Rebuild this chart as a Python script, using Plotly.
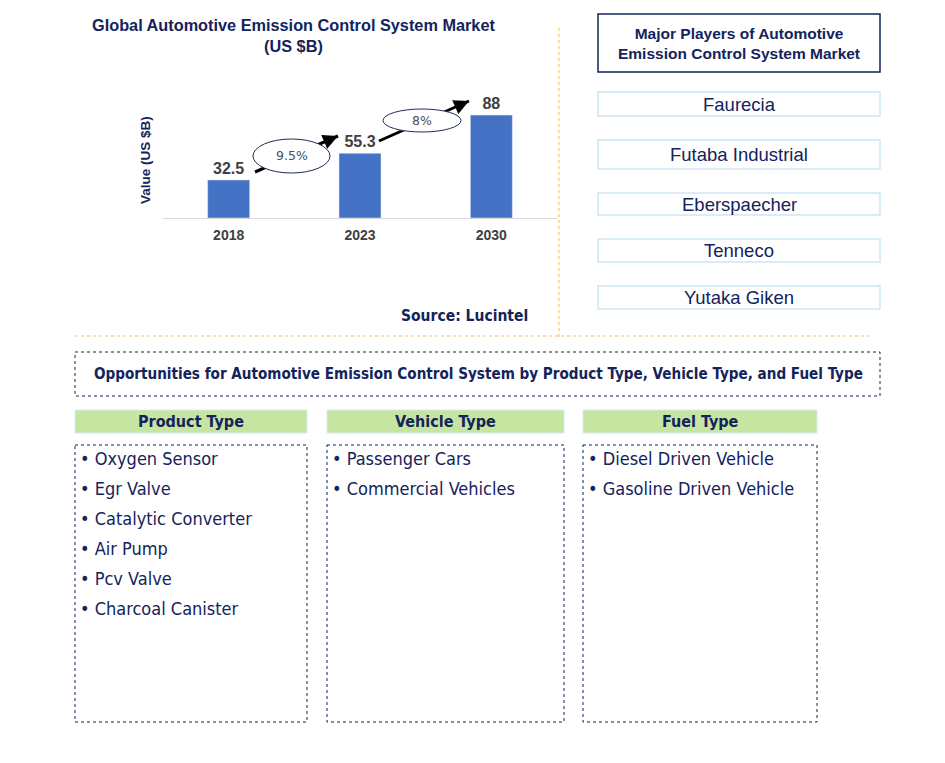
import plotly.graph_objects as go

W, H = 945, 763

years = ["2018", "2023", "2030"]
values = [32.5, 55.3, 88]
cagr_labels = ["9.5%", "8%"]
players = ["Faurecia", "Futaba Industrial", "Eberspaecher", "Tenneco", "Yutaka Giken"]
segment_titles = ["Product Type", "Vehicle Type", "Fuel Type"]
product_types = ["Oxygen Sensor", "Egr Valve", "Catalytic Converter", "Air Pump", "Pcv Valve", "Charcoal Canister"]
vehicle_types = ["Passenger Cars", "Commercial Vehicles"]
fuel_types = ["Diesel Driven Vehicle", "Gasoline Driven Vehicle"]

NAVY = "#13235b"
GOLD = "#f2c14e"
ARIAL = "Liberation Sans, Arial, sans-serif"
NARROW = "DejaVu Sans Condensed, Liberation Sans Narrow, sans-serif"


def px(x):
    return x / W


def py(y):
    return 1 - y / H


fig = go.Figure()

X0, X1 = 163, 557
Y_BASE, Y_TOP = 218, 60
YMAX = (Y_BASE - Y_TOP) / 1.17

fig.add_trace(go.Bar(
    x=years, y=values, marker_color="#4472c4", width=0.32,
    text=[str(v) for v in values], texttemplate="<b>%{text}</b>", textposition="outside",
    textfont=dict(family=ARIAL, size=16, color="#404040"),
    cliponaxis=False, hoverinfo="skip",
))

fig.update_layout(
    width=W, height=H, margin=dict(l=0, r=0, t=0, b=0),
    paper_bgcolor="white", plot_bgcolor="white", showlegend=False,
    xaxis=dict(domain=[px(X0), px(X1)], showgrid=False, showline=True, linecolor="#d9d9d9",
               linewidth=1, ticks="", tickfont=dict(family=ARIAL, size=14, color="#404040"),
               tickprefix="<b>", ticksuffix="</b>", ticklabelstandoff=4, fixedrange=True),
    yaxis=dict(domain=[py(Y_BASE), py(Y_TOP)], range=[0, YMAX], showgrid=False,
               showticklabels=False, zeroline=False, showline=False, fixedrange=True),
)

shapes = []
ann = []


def text(x, y, s, size, family=ARIAL, color=NAVY, xanchor="center", angle=0):
    ann.append(dict(x=px(x), y=py(y), xref="paper", yref="paper", showarrow=False, text=s,
                    xanchor=xanchor, yanchor="middle", textangle=angle,
                    font=dict(family=family, size=size, color=color)))


text(293, 36, "<b>Global Automotive Emission Control System Market<br>(US $B)</b>", 16.3)
text(145, 160, "<b>Value (US $B)</b>", 13.5, angle=-90)

arrows = [((255, 172), (338, 136)), ((379, 141), (469, 101))]
ellipses = [(253, 139, 330, 173), (383, 109, 461, 132)]
for (s, e), (ex0, ey0, ex1, ey1), lab in zip(arrows, ellipses, cagr_labels):
    shapes.append(dict(type="line", xref="paper", yref="paper", x0=px(s[0]), y0=py(s[1]),
                       x1=px(e[0]), y1=py(e[1]), line=dict(color="black", width=3)))
    shapes.append(dict(type="circle", xref="paper", yref="paper", x0=px(ex0), y0=py(ey0),
                       x1=px(ex1), y1=py(ey1), fillcolor="white", line=dict(color="#1f2d5a", width=1)))
    text((ex0 + ex1) / 2, (ey0 + ey1) / 2, lab, 12.5, family="DejaVu Sans, sans-serif", color="#44506a")
    dx, dy = e[0] - s[0], e[1] - s[1]
    ann.append(dict(x=px(e[0]), y=py(e[1]), xref="paper", yref="paper", showarrow=True,
                    ax=-dx * 0.15, ay=-dy * 0.15, arrowhead=2, arrowsize=1, arrowwidth=3,
                    arrowcolor="black", text=""))

text(530, 316, "<b>Source: Lucintel</b>", 15.5, family=NARROW, xanchor="right")

shapes.append(dict(type="line", xref="paper", yref="paper", x0=px(559), x1=px(559), y0=py(28), y1=py(340),
                   line=dict(color=GOLD, width=1, dash="dot")))
shapes.append(dict(type="line", xref="paper", yref="paper", x0=px(75), x1=px(870), y0=py(336), y1=py(336),
                   line=dict(color=GOLD, width=1, dash="dot")))

shapes.append(dict(type="rect", xref="paper", yref="paper", x0=px(598), x1=px(880), y0=py(14), y1=py(72),
                   line=dict(color=NAVY, width=1.5), fillcolor="white", layer="below"))
text(739, 43, "<b>Major Players of Automotive<br>Emission Control System Market</b>", 15.5)
player_boxes = [(92, 116), (140, 169), (193, 215), (239, 262), (286, 309)]
for name, (t, b) in zip(players, player_boxes):
    shapes.append(dict(type="rect", xref="paper", yref="paper", x0=px(598), x1=px(880), y0=py(t), y1=py(b),
                       line=dict(color="#cfe6f5", width=1.5), fillcolor="white", layer="below"))
    text(739, (t + b) / 2, name, 18.5)

shapes.append(dict(type="rect", xref="paper", yref="paper", x0=px(75), x1=px(880), y0=py(352), y1=py(396),
                   line=dict(color=NAVY, width=1, dash="dot")))
text(478, 374, "<b>Opportunities for Automotive Emission Control System by Product Type, Vehicle Type, and Fuel Type</b>",
     15.1, family=NARROW)

cols = [(75, 307), (327, 564), (583, 817)]
lists = [product_types, vehicle_types, fuel_types]
for (x0, x1), title, items in zip(cols, segment_titles, lists):
    shapes.append(dict(type="rect", xref="paper", yref="paper", x0=px(x0), x1=px(x1), y0=py(410), y1=py(433),
                       line=dict(color="#d6eaf8", width=1), fillcolor="#c6e5a0", layer="below"))
    text((x0 + x1) / 2, 421.5, f"<b>{title}</b>", 16, family=NARROW)
    shapes.append(dict(type="rect", xref="paper", yref="paper", x0=px(x0), x1=px(x1), y0=py(445), y1=py(722),
                       line=dict(color=NAVY, width=1, dash="dot")))
    for i, it in enumerate(items):
        text(x0 + 3, 458 + 30 * i, f"• {it}", 18, family=NARROW, xanchor="left")

fig.update_layout(shapes=shapes, annotations=ann)
fig.write_html("out.html", config={"displayModeBar": False},
               post_script="document.body.style.margin='0';")
